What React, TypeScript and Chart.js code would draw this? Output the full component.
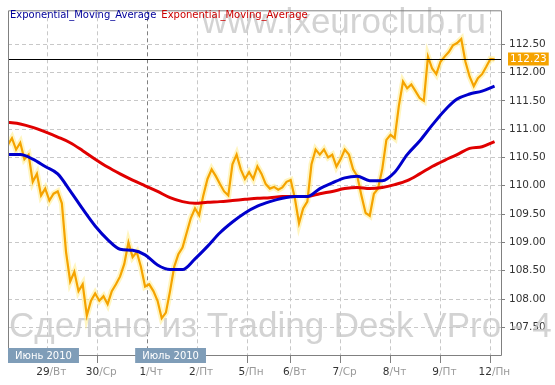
import React, { useEffect, useRef } from 'react';
import { Chart, registerables } from 'chart.js';

Chart.register(...registerables);

// ---------- data ----------
// bar index: 0 = start of 29 June (one bar per hour)
const priceStartBar = -19;
const priceStepBars = 2;
const priceValues = [
  110.72, 110.84, 110.64, 110.76, 110.47, 110.55, 110.07, 110.21, 109.83, 109.95,
  109.74, 109.86, 109.90, 109.69, 108.83, 108.31, 108.48, 108.14, 108.26, 107.71,
  107.97, 108.10, 107.97, 108.05, 107.91, 108.14, 108.26, 108.40, 108.62, 109.00,
  108.74, 108.83, 108.57, 108.22, 108.26, 108.14, 107.97, 107.66, 107.76, 108.14,
  108.57, 108.79, 108.91, 109.17, 109.43, 109.60, 109.48, 109.83, 110.12, 110.29,
  110.17, 110.03, 109.90, 109.83, 110.38, 110.55, 110.29, 110.12, 110.24, 110.12,
  110.34, 110.21, 110.03, 109.95, 109.98, 109.93, 109.97, 110.07, 110.10, 109.78,
  109.34, 109.60, 109.72, 110.38, 110.64, 110.55, 110.64, 110.50, 110.55, 110.34,
  110.47, 110.64, 110.55, 110.29, 110.17, 109.83, 109.52, 109.47, 109.86, 109.95,
  110.29, 110.81, 110.90, 110.84, 111.41, 111.84, 111.72, 111.79, 111.67, 111.55,
  111.50, 112.28, 112.07, 111.97, 112.19, 112.28,
  112.36, 112.48, 112.52, 112.59, 112.19, 111.93, 111.76, 111.90, 111.97, 112.10, 112.24, 112.23,
];

const emaStartBar = -19;
const emaStepBars = 6;
const emaFastValues = [
  110.55, 110.55, 110.47, 110.34, 110.21, 109.91, 109.59, 109.29, 109.05, 108.88,
  108.86, 108.78, 108.60, 108.52, 108.52, 108.71, 108.93, 109.17, 109.36, 109.52,
  109.64, 109.72, 109.78, 109.81, 109.81, 109.95, 110.05, 110.14, 110.17, 110.09,
  110.09, 110.24, 110.55, 110.79, 111.07, 111.33, 111.53, 111.62, 111.67, 111.76,
];
const emaSlowValues = [
  111.12, 111.09, 111.03, 110.95, 110.86, 110.76, 110.62, 110.47, 110.33, 110.21,
  110.10, 110.00, 109.90, 109.79, 109.72, 109.69, 109.71, 109.72, 109.74, 109.76,
  109.78, 109.79, 109.81, 109.81, 109.81, 109.86, 109.90, 109.95, 109.97, 109.95,
  109.97, 110.02, 110.09, 110.21, 110.34, 110.45, 110.55, 110.66, 110.69, 110.78,
];

const dayTickBars = [0, 24, 48, 72, 96, 117, 141, 165, 189, 213];
const dayNumbers = ['29', '30', '1', '2', '5', '6', '7', '8', '9', '12'];
const weekdayNames = ['Вт', 'Ср', 'Чт', 'Пт', 'Пн', 'Вт', 'Ср', 'Чт', 'Пт', 'Пн'];
const monthLabels = ['Июнь 2010', 'Июль 2010'];
const monthStartBars = [-18.9, 48];

const yTickValues = [107.5, 108.0, 108.5, 109.0, 109.5, 110.0, 110.5, 111.0, 111.5, 112.0, 112.5];
const lastPrice = 112.23;
const legendLabels = ['Exponential_Moving_Average', 'Exponential_Moving_Average'];
const watermarkTop = 'www.ixeuroclub.ru';
const watermarkBottom = 'Сделано из Trading Desk VPro - 4';

const xMin = -18.9;
const xMax = 218.1;
const yMin = 107.012;
const yMax = 113.098;

// ---------- styles ----------
const COL_PRICE = '#f5a300';
const COL_GLOW = 'rgba(255, 238, 150, 0.6)';
const COL_FAST = '#0000cc';
const COL_SLOW = '#e00000';
const COL_GRID = '#c8c8c8';
const COL_FRAME = '#808080';
const COL_MONTH = '#7f9db8';
const FONT = '"DejaVu Sans", Verdana, sans-serif';

const overlayPlugin = {
  id: 'overlay',
  beforeDatasetsDraw(chart: any) {
    const { ctx } = chart;
    ctx.save();
    ctx.fillStyle = 'rgba(200,200,200,0.8)';
    ctx.font = '35px "Liberation Sans", Arial, sans-serif';
    ctx.textBaseline = 'alphabetic';
    ctx.textAlign = 'left';
    ctx.fillText(watermarkTop, 202, 33);
    ctx.fillText(watermarkBottom, 9, 337);
    ctx.restore();
  },
  afterDatasetsDraw(chart: any) {
    const { ctx, chartArea, scales } = chart;
    const xs = scales.x;
    const ys = scales.y;
    const { left, right, top, bottom } = chartArea;
    ctx.save();

    // last price line
    const py = Math.round(ys.getPixelForValue(lastPrice)) + 0.5;
    ctx.strokeStyle = '#000';
    ctx.lineWidth = 1;
    ctx.beginPath();
    ctx.moveTo(left, py);
    ctx.lineTo(right, py);
    ctx.stroke();

    // frame
    ctx.strokeStyle = COL_FRAME;
    ctx.beginPath();
    ctx.moveTo(left + 0.5, bottom + 0.5);
    ctx.lineTo(left + 0.5, top + 0.5);
    ctx.lineTo(right + 0.5, top + 0.5);
    ctx.lineTo(right + 0.5, bottom + 0.5);
    ctx.lineTo(left + 0.5, bottom + 0.5);
    ctx.stroke();

    // legend
    ctx.font = '10px ' + FONT;
    ctx.textBaseline = 'middle';
    ctx.textAlign = 'left';
    ctx.fillStyle = '#000099';
    ctx.fillText(legendLabels[0], 10, 15);
    const w0 = ctx.measureText(legendLabels[0]).width;
    ctx.fillStyle = '#cc0000';
    ctx.fillText(legendLabels[1], 10 + w0 + 5, 15);

    // month boxes
    monthLabels.forEach((lab, i) => {
      const bx = i === 0 ? left : xs.getPixelForValue(monthStartBars[i]) - 12;
      ctx.font = '10px ' + FONT;
      const tw = ctx.measureText(lab).width;
      const bw = tw + 14;
      ctx.fillStyle = COL_MONTH;
      ctx.fillRect(bx, 348, bw, 15);
      ctx.fillStyle = '#ffffff';
      ctx.textBaseline = 'middle';
      ctx.fillText(lab, bx + 7, 356);
    });

    // day labels
    ctx.font = '10.5px ' + FONT;
    ctx.textBaseline = 'middle';
    dayTickBars.forEach((b, i) => {
      const cx = xs.getPixelForValue(b) + 4;
      const num = dayNumbers[i];
      const suf = '/' + weekdayNames[i];
      const wn = ctx.measureText(num).width;
      const ws = ctx.measureText(suf).width;
      const sx = cx - (wn + ws) / 2;
      ctx.fillStyle = '#333333';
      ctx.fillText(num, sx, 372);
      ctx.fillStyle = '#999999';
      ctx.fillText(suf, sx + wn, 372);
    });

    // last price tag
    const txt = lastPrice.toFixed(2);
    ctx.font = '10.5px ' + FONT;
    const tw = ctx.measureText(txt).width;
    ctx.fillStyle = '#f5a300';
    ctx.fillRect(right + 7, py - 7, tw + 4, 13);
    ctx.fillStyle = '#ffffff';
    ctx.fillText(txt, right + 9, py);

    ctx.restore();
  },
};

export default function App() {
  const canvasRef = useRef<HTMLCanvasElement | null>(null);

  useEffect(() => {
    document.body.style.margin = '0';
    const canvas = canvasRef.current;
    if (!canvas) return;
    Chart.defaults.font.family = FONT;

    const pricePoints = priceValues.map((v, i) => ({ x: priceStartBar + i * priceStepBars, y: v }));
    const fastPoints = emaFastValues.map((v, i) => ({ x: emaStartBar + i * emaStepBars, y: v }));
    const slowPoints = emaSlowValues.map((v, i) => ({ x: emaStartBar + i * emaStepBars, y: v }));

    const chart = new Chart(canvas, {
      type: 'line',
      data: {
        datasets: [
          {
            label: legendLabels[0],
            data: fastPoints,
            borderColor: COL_FAST,
            borderWidth: 3,
            pointRadius: 0,
            cubicInterpolationMode: 'monotone',
            order: 0,
          },
          {
            label: legendLabels[1],
            data: slowPoints,
            borderColor: COL_SLOW,
            borderWidth: 3,
            pointRadius: 0,
            cubicInterpolationMode: 'monotone',
            order: 1,
          },
          {
            label: 'price',
            data: pricePoints,
            borderColor: COL_PRICE,
            borderWidth: 2.2,
            pointRadius: 0,
            tension: 0,
            order: 2,
          },
          {
            label: 'glow',
            data: pricePoints,
            borderColor: COL_GLOW,
            borderWidth: 6,
            pointRadius: 0,
            tension: 0,
            order: 3,
          },
        ],
      },
      options: {
        responsive: false,
        animation: false,
        layout: { padding: { left: 8, top: 2, right: 0, bottom: 0 } },
        plugins: { legend: { display: false }, tooltip: { enabled: false } },
        scales: {
          x: {
            type: 'linear',
            min: xMin,
            max: xMax,
            afterBuildTicks: (scale: any) => {
              scale.ticks = dayTickBars.map((v) => ({ value: v }));
            },
            afterFit: (scale: any) => {
              scale.height = 30;
            },
            ticks: { callback: () => '', padding: 0 },
            grid: {
              color: (c: any) => (c.tick && c.tick.value === monthStartBars[1] ? '#808080' : COL_GRID),
              tickColor: '#808080',
              tickLength: 8,
              borderDash: [4, 3],
            } as any,
            border: { display: false, dash: [4, 3] },
          },
          y: {
            type: 'linear',
            position: 'right',
            min: yMin,
            max: yMax,
            afterBuildTicks: (scale: any) => {
              scale.ticks = yTickValues.map((v) => ({ value: v }));
            },
            afterFit: (scale: any) => {
              scale.width = 54;
            },
            ticks: {
              callback: (v: any) => Number(v).toFixed(2),
              color: '#333333',
              font: { size: 10.5, family: FONT },
              padding: 4,
            },
            grid: {
              color: COL_GRID,
              tickColor: '#808080',
              tickLength: 4,
              borderDash: [4, 3],
            } as any,
            border: { display: false, dash: [4, 3] },
          },
        },
      },
      plugins: [overlayPlugin],
    });

    return () => chart.destroy();
  }, []);

  return (
    <div style={{ position: 'absolute', left: 0, top: 0, width: 555, height: 385, background: '#fff' }}>
      <canvas ref={canvasRef} width={555} height={385} style={{ display: 'block', width: 555, height: 385 }} />
    </div>
  );
}
